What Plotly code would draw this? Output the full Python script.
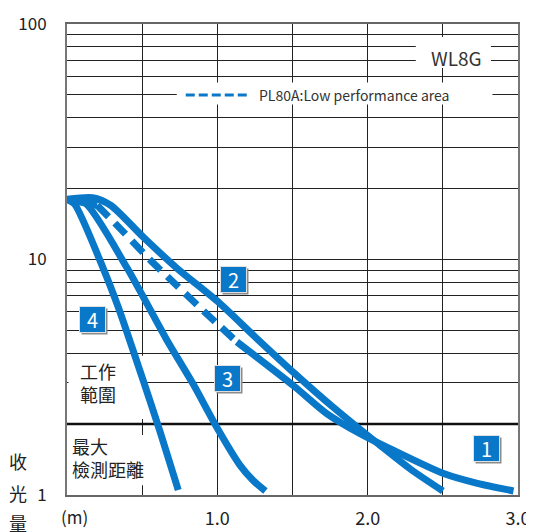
import math
import plotly.graph_objects as go

# sensing distance (m) vs received light level, WL8G chart
CURVE1_X = [0, 0.2, 0.37, 0.55, 0.73, 0.91, 1.13, 1.51, 1.73, 1.95, 2.17, 2.51, 2.73, 2.97]
CURVE1_Y = [18, 17, 13.2, 10, 7.76, 6.03, 4.47, 2.9, 2.21, 1.82, 1.55, 1.23, 1.12, 1.04]
CURVE2_X = [0, 0.17, 0.29, 0.51, 0.73, 1.0, 1.25, 1.51, 1.77, 2.09, 2.29, 2.5]
CURVE2_Y = [18, 18.3, 17, 12.4, 9.2, 6.65, 4.7, 3.3, 2.36, 1.61, 1.28, 1.04]
CURVE3_X = [0, 0.12, 0.4, 0.66, 0.84, 1.0, 1.15, 1.24, 1.32]
CURVE3_Y = [18, 17.4, 9.2, 4.6, 2.95, 1.92, 1.34, 1.15, 1.04]
CURVE4_X = [0, 0.05, 0.24, 0.34, 0.49, 0.62, 0.74]
CURVE4_Y = [18, 17.2, 9.2, 6.3, 3.3, 1.85, 1.05]

# PL80A low performance stretch on curve 1
LOW_PERF_FROM = 0.2
LOW_PERF_TO = 1.13

BADGE_LABELS = ["1", "2", "3", "4"]
BADGE_X = [2.79, 1.11, 1.07, 0.17]
BADGE_Y = [1.57, 8.2, 3.11, 5.58]

MAX_DETECT_LEVEL = 2

X_TICKS = [0, 0.5, 1, 1.5, 2, 2.5, 3]
X_TICKTEXT = ["", "", "1.0", "", "2.0", "", "3.0"]
Y_TICKS = [1, 2, 3, 4, 5, 6, 7, 8, 9, 10, 20, 30, 40, 50, 60, 70, 80, 90, 100]
Y_TICKTEXT = ["1"] + [""] * 8 + ["10"] + [""] * 8 + ["100"]

BLUE = "#0A78C8"
FONT = "Noto Sans CJK TC"


def segment(xs, ys, lo, hi):
    pts = [(x, y) for x, y in zip(xs, ys) if lo <= x <= hi]
    return [p[0] for p in pts], [p[1] for p in pts]


fig = go.Figure()

line = dict(color=BLUE, width=7, shape="spline", smoothing=0.7)

for xs, ys in [(CURVE4_X, CURVE4_Y), (CURVE3_X, CURVE3_Y), (CURVE2_X, CURVE2_Y)]:
    fig.add_trace(go.Scatter(x=xs, y=ys, mode="lines", line=line, hoverinfo="skip"))

x, y = segment(CURVE1_X, CURVE1_Y, 0, LOW_PERF_FROM)
fig.add_trace(go.Scatter(x=x, y=y, mode="lines", line=line, hoverinfo="skip"))
x, y = segment(CURVE1_X, CURVE1_Y, LOW_PERF_FROM, LOW_PERF_TO)
fig.add_trace(go.Scatter(x=x, y=y, mode="lines", line=dict(line, dash="16px,9px"), hoverinfo="skip"))
x, y = segment(CURVE1_X, CURVE1_Y, LOW_PERF_TO, 3)
fig.add_trace(go.Scatter(x=x, y=y, mode="lines", line=line, hoverinfo="skip"))

shapes = [
    # max detection distance threshold
    dict(type="line", xref="x", yref="y", x0=0, x1=3, y0=MAX_DETECT_LEVEL, y1=MAX_DETECT_LEVEL,
         line=dict(color="#111", width=2.5), layer="between"),
    # white boxes behind texts
    dict(type="rect", xref="x", yref="y", x0=0.01, x1=0.51, y0=2.1, y1=3.9,
         fillcolor="white", line=dict(width=0), layer="between"),
    dict(type="rect", xref="x", yref="y", x0=0.01, x1=0.53, y0=1.1, y1=1.8,
         fillcolor="white", line=dict(width=0), layer="between"),
    dict(type="rect", xref="x", yref="y", x0=0.73, x1=2.83, y0=45.5, y1=56.5,
         fillcolor="white", line=dict(width=0), layer="between"),
    dict(type="rect", xref="x", yref="y", x0=2.32, x1=2.82, y0=65, y1=88,
         fillcolor="white", line=dict(width=0), layer="between"),
    # legend sample
    dict(type="line", xref="x", yref="y", x0=0.79, x1=1.22, y0=50, y1=50,
         line=dict(color=BLUE, width=3, dash="9px,4px")),
]

annotations = [
    dict(x=1.267, y=math.log10(50), xref="x", yref="y", text="PL80A:Low performance area",
         showarrow=False, xanchor="left", font=dict(size=14, color="#333")),
    dict(x=2.59, y=math.log10(72), xref="x", yref="y", text="WL8G",
         showarrow=False, font=dict(size=19, color="#333")),
    dict(x=0.203, y=math.log10(3), xref="x", yref="y", text="工作<br>範圍",
         showarrow=False, font=dict(size=18, color="#222")),
    dict(x=0.02, y=math.log10(1.44), xref="x", yref="y", text="最大<br>檢測距離",
         showarrow=False, xanchor="left", align="left", font=dict(size=18, color="#222")),
    dict(x=0, y=0, xref="paper", yref="paper", text="(m)", showarrow=False,
         xanchor="left", yanchor="middle", xshift=-8, yshift=-21,
         font=dict(size=17, color="#222")),
]

# vertical y-axis title, one character per row
for ch, dy in zip("收光量", [34, 2, -28]):
    annotations.append(dict(x=0, y=0, xref="paper", yref="paper", text=ch, showarrow=False,
                            xanchor="center", yanchor="middle", xshift=-49, yshift=dy,
                            font=dict(size=18, color="#222")))

for label, bx, by in zip(BADGE_LABELS, BADGE_X, BADGE_Y):
    annotations.append(dict(x=bx, y=math.log10(by), xref="x", yref="y", text=label,
                            showarrow=False, xshift=2, yshift=-2, width=23, height=23,
                            bgcolor="#8c8c8c", font=dict(size=20, color="#8c8c8c")))
    annotations.append(dict(x=bx, y=math.log10(by), xref="x", yref="y", text=label,
                            showarrow=False, width=23, height=23, bgcolor=BLUE,
                            bordercolor="#e0e0e0", borderwidth=1,
                            font=dict(size=20, color="white")))

# the page body adds an 8px margin, so the figure is sized 8px smaller
fig.update_layout(
    width=526,
    height=524,
    margin=dict(l=59, r=16, t=16, b=37),
    paper_bgcolor="white",
    plot_bgcolor="white",
    showlegend=False,
    font=dict(family=FONT, color="#222"),
    shapes=shapes,
    annotations=annotations,
    xaxis=dict(
        range=[0, 3],
        tickvals=X_TICKS,
        ticktext=X_TICKTEXT,
        showgrid=True,
        gridcolor="#222",
        gridwidth=1,
        zeroline=False,
        showline=True,
        linecolor="#666",
        linewidth=2,
        mirror=True,
        ticks="",
        ticklabelstandoff=6,
        automargin=False,
        tickfont=dict(size=18, color="#222"),
    ),
    yaxis=dict(
        type="log",
        range=[0, 2],
        tickvals=Y_TICKS,
        ticktext=Y_TICKTEXT,
        showgrid=True,
        gridcolor="#222",
        gridwidth=1,
        zeroline=False,
        showline=True,
        linecolor="#777",
        linewidth=2,
        mirror=True,
        ticks="",
        ticklabelstandoff=15,
        automargin=False,
        tickfont=dict(size=17, color="#222"),
    ),
)

fig.write_html("out.html")
